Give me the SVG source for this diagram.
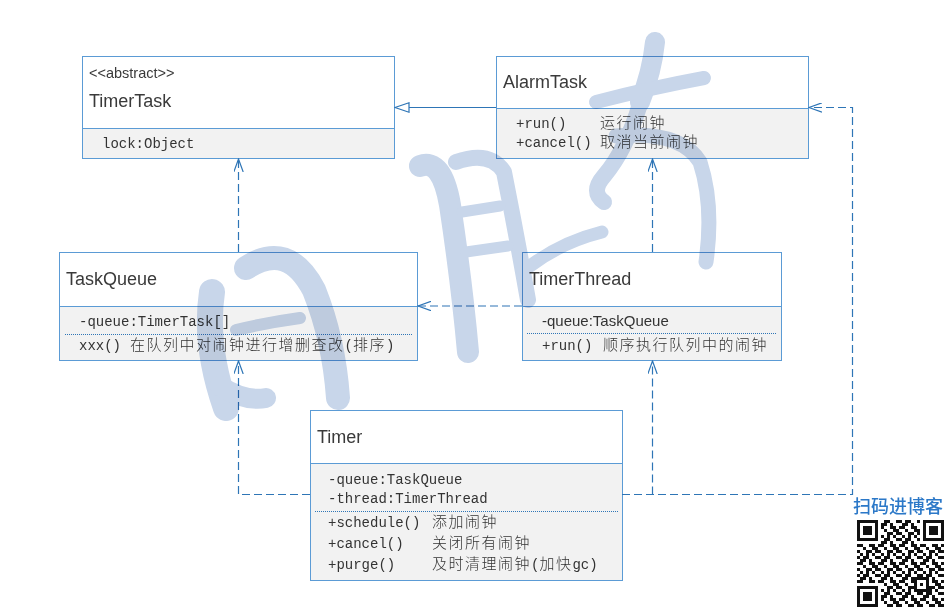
<svg xmlns="http://www.w3.org/2000/svg" width="949" height="613" viewBox="0 0 949 613">
<style>
.box{fill:#fff;stroke:#5b9bd5;stroke-width:1}
.sec{fill:#f2f2f2;stroke:#5b9bd5;stroke-width:1}
.dot{stroke:#2e75b6;stroke-width:1;stroke-dasharray:1 1;fill:none}
.title{font-family:"Liberation Sans","Noto Sans CJK SC",sans-serif;font-size:18px;fill:#3a3a3a}
.stereo{font-family:"Liberation Sans",sans-serif;font-size:14.5px;fill:#3a3a3a}
.mono{font-family:"Liberation Mono","Noto Sans CJK SC",monospace;font-size:14px;fill:#333}
.cjk{font-family:"Noto Sans CJK SC",sans-serif;font-size:15px;letter-spacing:1.5px;font-weight:300}
.sans{font-family:"Liberation Sans",sans-serif;font-size:15px;fill:#333}
.conn{fill:none;stroke:#2e75b6;stroke-width:1.2}
.dash{stroke-dasharray:8 4}
.wm{fill:none;stroke:#c8d6ea;stroke-linecap:round;stroke-linejoin:round}
.qrt{font-family:"Noto Sans CJK SC",sans-serif;font-size:18px;font-weight:500;fill:#2b78c8}
</style>
<defs>
<marker id="open" viewBox="0 0 14 10" refX="13" refY="5" markerWidth="14" markerHeight="10" markerUnits="userSpaceOnUse" orient="auto">
<path d="M0,0.3 L13,5 L0,9.7" fill="none" stroke="#2e75b6" stroke-width="1.2" stroke-dasharray="none"/>
</marker>
<marker id="tri" viewBox="0 0 16 12" refX="15" refY="6" markerWidth="16" markerHeight="12" markerUnits="userSpaceOnUse" orient="auto">
<path d="M1,1.3 L15,6 L1,10.7 Z" fill="#fff" stroke="#2e75b6" stroke-width="1.2"/>
</marker>
<pattern id="qrp" x="857" y="520" width="21" height="18" patternUnits="userSpaceOnUse">
<path d="M0 0h3v3h-3z M6 0h6v3h-6z M18 0h3v3h-3z M3 3h6v3h-6z M12 3h3v3h-3z M0 6h6v3h-6z M12 6h6v3h-6z M6 9h3v3h-3z M15 9h6v3h-6z M0 12h3v3h-3z M9 12h6v3h-6z M18 12h3v3h-3z M3 15h3v3h-3z M9 15h3v3h-3z M15 15h3v3h-3z" fill="#111"/>
</pattern>
</defs>
<rect width="949" height="613" fill="#fff"/>

<g id="n-timertask">
<rect class="box" x="82.5" y="56.5" width="312" height="102"/>
<rect class="sec" x="82.5" y="128.5" width="312" height="30"/>
<text class="stereo" x="89" y="78">&lt;&lt;abstract&gt;&gt;</text>
<text class="title" x="89" y="107">TimerTask</text>
<text class="mono" x="102" y="148">lock:Object</text>
</g>

<g id="n-alarmtask">
<rect class="box" x="496.5" y="56.5" width="312" height="102"/>
<rect class="sec" x="496.5" y="108.5" width="312" height="50"/>
<text class="title" x="503" y="88">AlarmTask</text>
<text class="mono" y="128"><tspan x="516">+run()</tspan><tspan class="cjk" x="600">运行闹钟</tspan></text>
<text class="mono" y="147"><tspan x="516">+cancel()</tspan><tspan class="cjk" x="600">取消当前闹钟</tspan></text>
</g>

<g id="n-taskqueue">
<rect class="box" x="59.5" y="252.5" width="358" height="108"/>
<rect class="sec" x="59.5" y="306.5" width="358" height="54"/>
<path class="dot" d="M65,334.5 H412"/>
<text class="title" x="66" y="285">TaskQueue</text>
<text class="mono" x="79" y="326">-queue:TimerTask[]</text>
<text class="mono" y="350"><tspan x="79">xxx()</tspan><tspan class="cjk" x="130">在队列中对闹钟进行增删查改</tspan><tspan>(</tspan><tspan class="cjk">排序</tspan><tspan>)</tspan></text>
</g>

<g id="n-timerthread">
<rect class="box" x="522.5" y="252.5" width="259" height="108"/>
<rect class="sec" x="522.5" y="306.5" width="259" height="54"/>
<path class="dot" d="M527,333.5 H777"/>
<text class="title" x="529" y="285">TimerThread</text>
<text class="sans" x="542" y="326">-queue:TaskQueue</text>
<text class="mono" y="350"><tspan x="542">+run()</tspan><tspan class="cjk" x="603">顺序执行队列中的闹钟</tspan></text>
</g>

<g id="n-timer">
<rect class="box" x="310.5" y="410.5" width="312" height="170"/>
<rect class="sec" x="310.5" y="463.5" width="312" height="117"/>
<path class="dot" d="M315,511.5 H618"/>
<text class="title" x="317" y="443">Timer</text>
<text class="mono" x="328" y="484">-queue:TaskQueue</text>
<text class="mono" x="328" y="503">-thread:TimerThread</text>
<text class="mono" y="527"><tspan x="328">+schedule()</tspan><tspan class="cjk" x="432">添加闹钟</tspan></text>
<text class="mono" y="548"><tspan x="328">+cancel()</tspan><tspan class="cjk" x="432">关闭所有闹钟</tspan></text>
<text class="mono" y="569"><tspan x="328">+purge()</tspan><tspan class="cjk" x="432">及时清理闹钟</tspan><tspan>(</tspan><tspan class="cjk">加快</tspan><tspan>gc)</tspan></text>
</g>

<g id="connectors">
<path class="conn" d="M496,107.5 H395" marker-end="url(#tri)"/>
<path class="conn dash" d="M238.5,252 V159" marker-end="url(#open)"/>
<path class="conn dash" d="M652.5,252 V159" marker-end="url(#open)"/>
<path class="conn dash" d="M522,306 H418" marker-end="url(#open)"/>
<path class="conn dash" d="M310,494.5 H238.5 V361" marker-end="url(#open)"/>
<path class="conn dash" d="M652.5,494.5 V361" marker-end="url(#open)"/>
<path class="conn dash" d="M622,494.5 H852.5 V107.5 H809" marker-end="url(#open)"/>
</g>

<g id="qr">
<text class="qrt" x="853" y="513">扫码进博客</text>
<rect x="857" y="520" width="87" height="87" fill="#fff"/>
<rect x="857" y="520" width="87" height="87" fill="url(#qrp)"/>
<rect x="857" y="520" width="24" height="24" fill="#fff"/>
<rect x="920" y="520" width="24" height="24" fill="#fff"/>
<rect x="857" y="583" width="24" height="24" fill="#fff"/>
<g fill="#111">
<path d="M857,520h21v21h-21z M860,523v15h15v-15z" fill-rule="evenodd"/>
<rect x="863" y="526" width="9" height="9"/>
<path d="M923,520h21v21h-21z M926,523v15h15v-15z" fill-rule="evenodd"/>
<rect x="929" y="526" width="9" height="9"/>
<path d="M857,586h21v21h-21z M860,589v15h15v-15z" fill-rule="evenodd"/>
<rect x="863" y="592" width="9" height="9"/>
</g>
<rect x="914" y="577" width="15" height="15" fill="#fff"/>
<path d="M914,577h15v15h-15z M917,580v9h9v-9z" fill="#111" fill-rule="evenodd"/>
<rect x="920" y="583" width="3" height="3" fill="#111"/>
</g>

<g id="watermark" style="mix-blend-mode:multiply">
<path class="wm" stroke-width="26" d="M212,292 Q204,345 226,408"/>
<path class="wm" stroke-width="24" d="M246,268 Q288,240 314,290 Q334,340 338,398"/>
<path class="wm" stroke-width="20" d="M220,386 Q245,402 266,398"/>
<path class="wm" stroke-width="12" d="M236,330 Q270,322 300,318"/>
<path class="wm" stroke-width="22" d="M420,166 Q442,158 450,205 Q462,285 468,352"/>
<path class="wm" stroke-width="16" d="M456,162 Q490,150 504,172 Q516,232 528,300"/>
<path class="wm" stroke-width="11" d="M462,212 L500,206"/>
<path class="wm" stroke-width="11" d="M466,252 L508,246"/>
<path class="wm" stroke-width="20" d="M655,42 Q652,72 640,102"/>
<path class="wm" stroke-width="14" d="M596,102 Q650,88 704,78"/>
<path class="wm" stroke-width="16" d="M640,104 Q626,150 604,176 Q590,192 604,202"/>
<path class="wm" stroke-width="15" d="M616,136 Q680,130 700,162 Q714,205 706,262"/>
<path class="wm" stroke-width="13" d="M530,266 Q562,242 602,232"/>
</g>
</svg>
